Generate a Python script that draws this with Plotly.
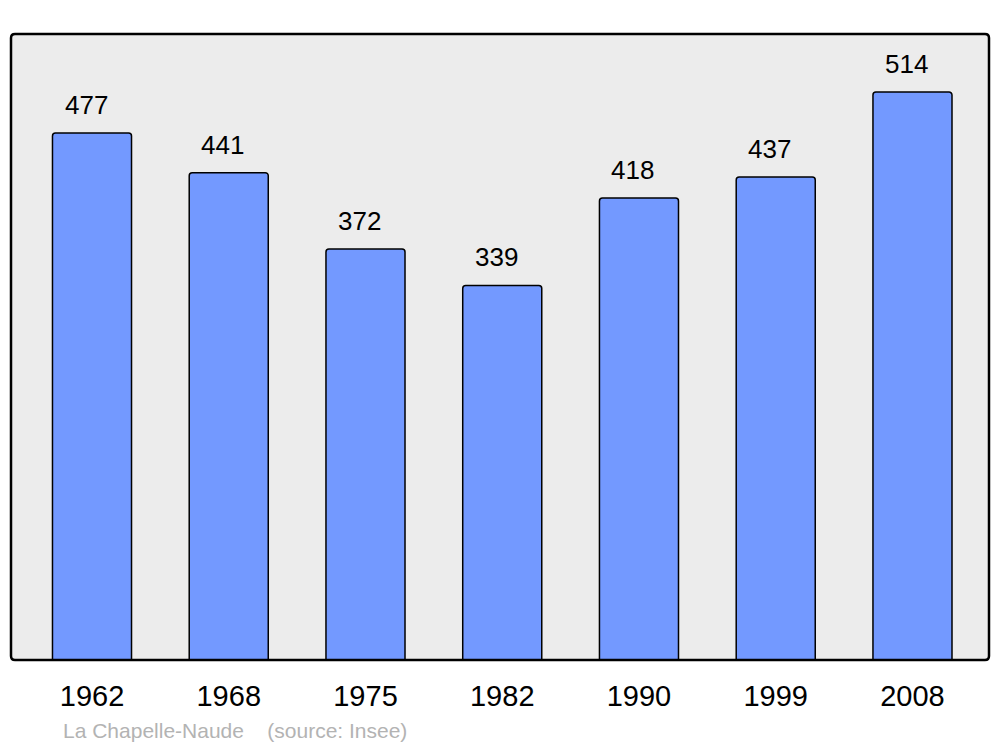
import plotly.graph_objects as go

years = ["1962", "1968", "1975", "1982", "1990", "1999", "2008"]
population = [477, 441, 372, 339, 418, 437, 514]
source_text = "La Chapelle-Naude    (source: Insee)"

idx = list(range(len(years)))

# page body has an 8px margin: place the figure accordingly
FIG_W, FIG_H = 992, 739
L, R, T, B = 3, 11, 26, 87
W, H = FIG_W - L - R, FIG_H - T - B

fig = go.Figure()
fig.add_trace(go.Bar(
    x=idx, y=population, width=0.578,
    marker=dict(color="#7399FF", line=dict(color="#000000", width=1.5), cornerradius=3),
    hoverinfo="skip",
))

for i, v in zip(idx, population):
    fig.add_annotation(x=i, y=v, text=str(v), showarrow=False, xanchor="center",
                       yanchor="middle", yshift=28, xshift=-6,
                       font=dict(size=26, color="#000000", family="Liberation Sans"))

fig.add_annotation(xref="paper", yref="paper", x=(61 - 11) / W, y=(660 - 730) / H,
                   text=source_text, showarrow=False, xanchor="left", yanchor="middle",
                   font=dict(size=21, color="#b3b3b3", family="Liberation Sans"))

rx, ry = 4 / W, 4 / H
path = (f"M {rx},0 L {1-rx},0 Q 1,0 1,{ry} L 1,{1-ry} Q 1,1 {1-rx},1 "
        f"L {rx},1 Q 0,1 0,{1-ry} L 0,{ry} Q 0,0 {rx},0 Z")
fig.add_shape(type="path", path=path, xref="paper", yref="paper",
              fillcolor="#ececec", line=dict(width=0), layer="below")
fig.add_shape(type="path", path=path, xref="paper", yref="paper",
              fillcolor="rgba(0,0,0,0)", line=dict(color="#000000", width=2.5), layer="above")

fig.update_layout(
    width=FIG_W, height=FIG_H,
    margin=dict(l=L, r=R, t=T, b=B),
    paper_bgcolor="#ffffff", plot_bgcolor="#ffffff",
    showlegend=False,
    font=dict(family="Liberation Sans"),
    xaxis=dict(range=[-0.5923, 6.5596], tickvals=idx, ticktext=years, showgrid=False,
               zeroline=False, showline=False, ticks="", ticklabelstandoff=16,
               tickfont=dict(size=29, color="#000000"), fixedrange=True),
    yaxis=dict(range=[0, 566.5], showgrid=False, zeroline=False, showline=False,
               showticklabels=False, ticks="", fixedrange=True),
)

fig.write_html("out.html")
